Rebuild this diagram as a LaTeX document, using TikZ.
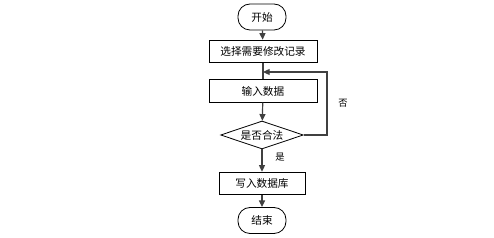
\documentclass[tikz,border=0pt]{standalone}
\usepackage{fontspec}
\setmainfont{Noto Sans CJK SC}
\usepackage{tikz}
\usetikzlibrary{shapes.geometric,arrows.meta}
\tikzset{every picture/.append style={font=\fontsize{8}{9.6}\selectfont}}
\definecolor{figline}{HTML}{404040}
\tikzset{
  procbox/.style={draw=black,line width=0.6pt,minimum width=81pt,minimum height=17pt,inner sep=0pt},
  termbox/.style={draw=black,line width=0.6pt,rounded corners=9pt,minimum width=36pt,minimum height=19.5pt,inner sep=0pt},
  decbox/.style={draw=black,line width=0.6pt,diamond,aspect=3,minimum width=62pt,minimum height=21pt,inner sep=0pt},
  flow/.style={figline,line width=0.9pt,-{Triangle[length=5pt,width=4.5pt]}}
}

\begin{document}
\begin{tikzpicture}[x=0.75pt,y=-0.75pt]
    \useasboundingbox (0,0) rectangle (494,238);
    \node[termbox] (start) at (262,17) {开始};
    \node[procbox] (pick) at (263,51.5) {选择需要修改记录};
    \node[procbox] (input) at (263,91) {输入数据};
    \node[decbox] (check) at (262,135) {是否合法};
    \node[procbox,minimum width=64.5pt] (save) at (262,183.5) {写入数据库};
    \node[termbox] (stop) at (262,220.5) {结束};
    \coordinate (join) at (263,72);
    \coordinate (back) at (327,72);
    \draw[flow] (start) -- (pick);
    \draw[figline,line width=0.9pt] (pick) -- (input);
    \draw[flow] (input) -- (check);
    \draw[flow] (check) -- (save);
    \draw[flow] (save) -- (stop);
    \draw[flow] (check.east) -| (back) -- (join);
    \node[font=\fontsize{7}{8}\selectfont] (no) at (343,103) {否};
    \node[font=\fontsize{7}{8}\selectfont] (yes) at (280,157) {是};
  \end{tikzpicture}
\end{document}
